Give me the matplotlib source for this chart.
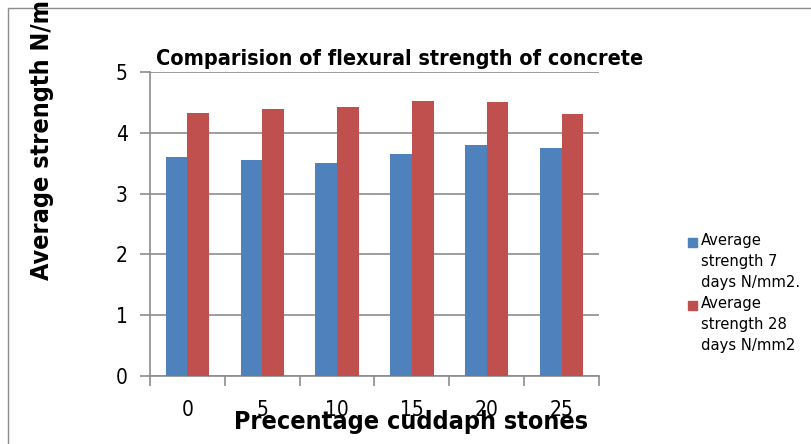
import matplotlib.pyplot as plt
import numpy as np

percent = ["0", "5", "10", "15", "20", "25"]
strength_7 = [3.6, 3.55, 3.5, 3.65, 3.8, 3.75]
strength_28 = [4.33, 4.39, 4.43, 4.53, 4.51, 4.31]
labels = ["Average\nstrength 7\ndays N/mm2.", "Average\nstrength 28\ndays N/mm2"]
colors = ["#4F81BD", "#C0504D"]

plt.rcParams['font.family'] = ["DejaVu Sans"]
plt.rcParams['font.stretch'] = "condensed"

W, H = 812, 444
fig = plt.figure(figsize=(W / 100, H / 100), dpi=100)
ax = fig.add_axes([0.1847, 0.1532, 0.553, 0.6847])

x = np.arange(len(percent))
w = 0.29
ax.bar(x - w/2, strength_7, w, color=colors[0], zorder=3)
ax.bar(x + w/2, strength_28, w, color=colors[1], zorder=3)

ax.set_xlim(-0.5, len(percent) - 0.5)
ax.set_ylim(0, 5)
ax.set_yticks(range(6))
ax.yaxis.grid(True, color="#8c8c8c", linewidth=1.2, zorder=0)
ax.set_xticks(np.arange(-0.5, len(percent)))
ax.set_xticklabels([])
ax.set_xticks(x, minor=True)
ax.set_xticklabels(percent, minor=True)
ax.tick_params(axis='x', which='minor', length=0, pad=17, labelsize=15)
ax.tick_params(axis='x', which='major', length=7, color="#8c8c8c", width=1.2)
ax.tick_params(axis='y', length=7, color="#8c8c8c", width=1.2, labelsize=15, pad=9)
for s in ["top", "right"]:
    ax.spines[s].set_visible(False)
for s in ["left", "bottom"]:
    ax.spines[s].set_color("#8c8c8c")
    ax.spines[s].set_linewidth(1.2)

fig.text(0.492, 0.853, "Comparision of flexural strength of concrete",
         ha="center", va="baseline", fontsize=15.5, fontweight="bold")
fig.text(0.506, 0.022, "Precentage cuddaph stones", ha="center", va="bottom",
         fontsize=18, fontweight="bold")
fig.text(0.037, 0.37, "Average strength N/mm2", rotation=90, rotation_mode="anchor",
         ha="left", va="top", fontsize=18, fontweight="bold")

# legend drawn by hand: square beside the first line of each label
for i, (lab, col) in enumerate(zip(labels, colors)):
    yc = 242 + i * 63
    fig.patches.append(plt.Rectangle((688 / W, 1 - (yc + 4.5) / H), 9 / W, 9 / H,
                                     transform=fig.transFigure, color=col))
    fig.text(701 / W, 1 - (yc - 9) / H, lab, ha="left", va="top",
             fontsize=11.8, linespacing=1.5)

border = plt.Rectangle((0.01, -0.05), 1.5, 1.032, transform=fig.transFigure,
                       fill=False, edgecolor="#8c8c8c", linewidth=1)
fig.patches.append(border)

fig.savefig("out.png", dpi=100)
